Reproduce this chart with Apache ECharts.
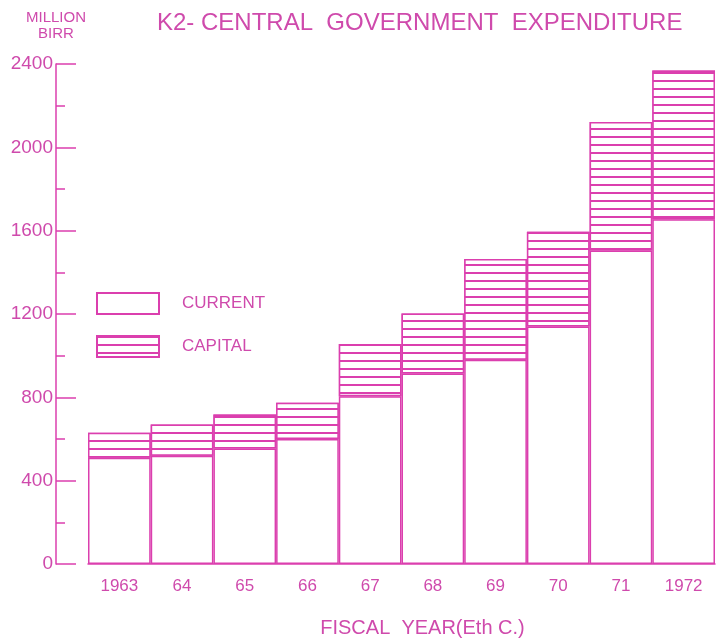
<!DOCTYPE html>
<html><head><meta charset="utf-8">
<script src="https://cdn.jsdelivr.net/npm/echarts@6/dist/echarts.min.js"></script>
<style>html,body{margin:0;padding:0;background:#fff}#c{width:726px;height:643px}</style>
</head><body><div id="c"></div>
<script>
const years = ['1963', '64', '65', '66', '67', '68', '69', '70', '71', '1972'];
const current = [510, 520, 555, 600, 805, 915, 980, 1140, 1505, 1655];
const capital = [120, 150, 163, 174, 251, 288, 484, 455, 617, 714];
const seriesNames = ['CURRENT', 'CAPITAL'];

const LINE = '#db3fae';
const TEXT = '#cf4aac';
const FONT = 'Liberation Sans';

const chart = echarts.init(document.getElementById('c'), null, {renderer: 'canvas'});
chart.setOption({
  backgroundColor: '#fff',
  animation: false,
  title: {
    text: 'K2- CENTRAL  GOVERNMENT  EXPENDITURE',
    left: 152, top: 6,
    textStyle: {fontFamily: FONT, fontSize: 24, fontWeight: 'normal', color: TEXT}
  },
  legend: {
    data: seriesNames,
    orient: 'vertical', left: 96, top: 292,
    icon: 'rect', itemWidth: 62, itemHeight: 21, itemGap: 20,
    padding: 0,
    textStyle: {fontFamily: FONT, fontSize: 17, color: TEXT, padding: [0, 0, 0, 18]}
  },
  grid: {left: 88, right: 11, top: 64, bottom: 73},
  xAxis: {
    type: 'category', data: years,
    axisTick: {show: false},
    axisLine: {lineStyle: {color: LINE, width: 1.5}},
    axisLabel: {fontFamily: FONT, fontSize: 17, color: TEXT, margin: 14},
    name: 'FISCAL  YEAR(Eth C.)',
    nameLocation: 'middle', nameGap: 54,
    nameTextStyle: {fontFamily: FONT, fontSize: 20, color: TEXT, padding: [0, 0, 0, 42]}
  },
  yAxis: {
    type: 'value', min: 0, max: 2400, interval: 400,
    position: 'left', offset: 32,
    name: 'MILLION\nBIRR', nameLocation: 'end', nameGap: 22,
    nameTextStyle: {fontFamily: FONT, fontSize: 15, color: TEXT, align: 'center', lineHeight: 16},
    axisLine: {show: true, lineStyle: {color: LINE, width: 1.5}},
    axisTick: {show: true, inside: true, length: 20, lineStyle: {color: LINE, width: 1.5}},
    minorTick: {show: true, splitNumber: 2, length: 9, lineStyle: {color: LINE, width: 1.5}},
    splitLine: {show: false},
    axisLabel: {fontFamily: FONT, fontSize: 19, color: TEXT, margin: 3, formatter: v => String(v)}
  },
  series: [
    {
      name: 'CURRENT', type: 'bar', stack: 'total', data: current,
      barCategoryGap: '0%',
      itemStyle: {color: '#fff', borderColor: LINE, borderWidth: 1.5}
    },
    {
      name: 'CAPITAL', type: 'bar', stack: 'total', data: capital,
      barCategoryGap: '0%',
      itemStyle: {
        color: '#fff', borderColor: LINE, borderWidth: 1.5,
        decal: {symbol: 'rect', symbolSize: 1, color: LINE, backgroundColor: '#fff',
                dashArrayX: [1, 0], dashArrayY: [2, 6], rotation: 0}
      }
    }
  ]
});
</script></body></html>
